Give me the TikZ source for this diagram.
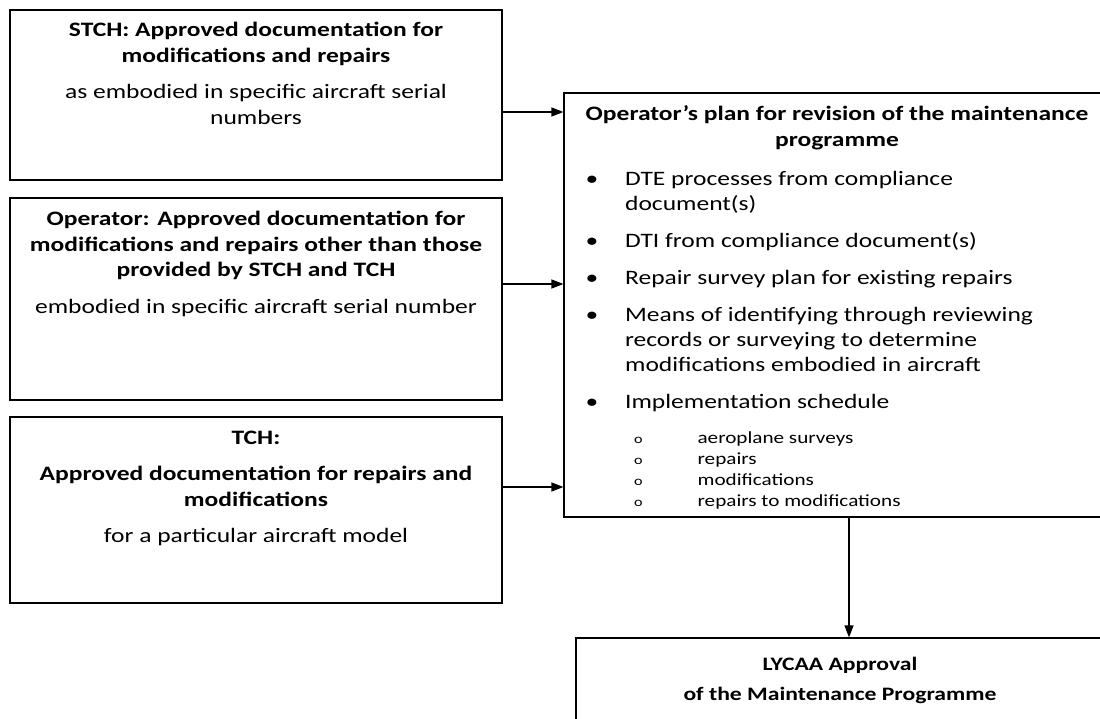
\documentclass[tikz,border=0pt]{standalone}
\usepackage{fontspec}
\setmainfont{Carlito}[FakeStretch=1.245]
\usetikzlibrary{arrows.meta, positioning}

\newcommand{\planbullet}{\makebox[39.5pt][l]{•}}
\newcommand{\planindent}{\hspace*{39.5pt}}
\newcommand{\subbullet}{\makebox[63.5pt][l]{{\fontsize{13}{13}\selectfont o}}}

\begin{document}
\begin{tikzpicture}[
    x=1pt, y=-1pt,
    >={Triangle[length=12pt, width=9pt]},
    box/.style={draw, rectangle, line width=1.2pt, inner sep=0pt},
    txt/.style={align=center, inner sep=0pt, font=\fontsize{20.5}{25.5}\selectfont},
    lst/.style={align=left, inner sep=0pt, anchor=north west, font=\fontsize{20.5}{25}\selectfont},
    subitem/.style={align=left, inner sep=0pt, anchor=north west, font=\fontsize{17}{20.9}\selectfont},
    arr/.style={->, line width=1.2pt}
]
\useasboundingbox[fill=white] (0,0) rectangle (1100,719);

% sources of approved documentation
\node[box, minimum width=492pt, minimum height=170pt] (Stch) at (256,95) {};
\node[txt, below=12.5pt of Stch.north] (StchText) {\textbf{STCH: Approved documentation for}\\\textbf{modifications and repairs}\\[11pt]as embodied in specific aircraft serial\\numbers};

\node[box, minimum width=492pt, minimum height=202pt] (Operator) at (256,299) {};
\node[txt, below=13.7pt of Operator.north] (OperatorText) {\textbf{Operator: Approved documentation for}\\\textbf{modifications and repairs other than those}\\\textbf{provided by STCH and TCH}\\[11pt]embodied in specific aircraft serial number};

\node[box, minimum width=492pt, minimum height=186pt] (Tch) at (256,510) {};
\node[txt, below=14pt of Tch.north] (TchText) {\textbf{TCH:}\\[11pt]\textbf{Approved documentation for repairs and}\\\textbf{modifications}\\[11pt]for a particular aircraft model};

% operator's plan
\node[box, minimum width=546pt, minimum height=424pt] (Plan) at (837,305) {};
\node[txt, below=13.4pt of Plan.north] (PlanTitle) {\textbf{Operator’s plan for revision of the maintenance}\\\textbf{programme}};
\node[lst] (PlanList) at ([xshift=22pt, yshift=-78.7pt]Plan.north west) {\planbullet DTE processes from compliance\\
\planindent document(s)\\[12pt]
\planbullet DTI from compliance document(s)\\[12pt]
\planbullet Repair survey plan for existing repairs\\[12pt]
\planbullet Means of identifying through reviewing\\
\planindent records or surveying to determine\\
\planindent modifications embodied in aircraft\\[12pt]
\planbullet Implementation schedule};
\node[subitem] (PlanSchedule) at ([xshift=70.5pt, yshift=-339.1pt]Plan.north west) {\subbullet aeroplane surveys\\
\subbullet repairs\\
\subbullet modifications\\
\subbullet repairs to modifications};

% approval
\node[box, minimum width=528pt, minimum height=104pt] (Approval) at (840,690) {};
\node[txt, font=\bfseries\fontsize{19}{30}\selectfont, below=19.7pt of Approval.north] (ApprovalText) {LYCAA Approval\\of the Maintenance Programme};

% connectors
\coordinate (StchOut) at ([yshift=-17pt]Stch.east);
\coordinate (OperatorOut) at ([yshift=15pt]Operator.east);
\coordinate (TchOut) at ([yshift=23pt]Tch.east);
\coordinate (PlanOut) at ([xshift=12pt]Plan.south);
\draw[arr] (StchOut) -- (StchOut -| Plan.west);
\draw[arr] (OperatorOut) -- (OperatorOut -| Plan.west);
\draw[arr] (TchOut) -- (TchOut -| Plan.west);
\draw[arr] (PlanOut) -- (PlanOut |- Approval.north);

\end{tikzpicture}
\end{document}
